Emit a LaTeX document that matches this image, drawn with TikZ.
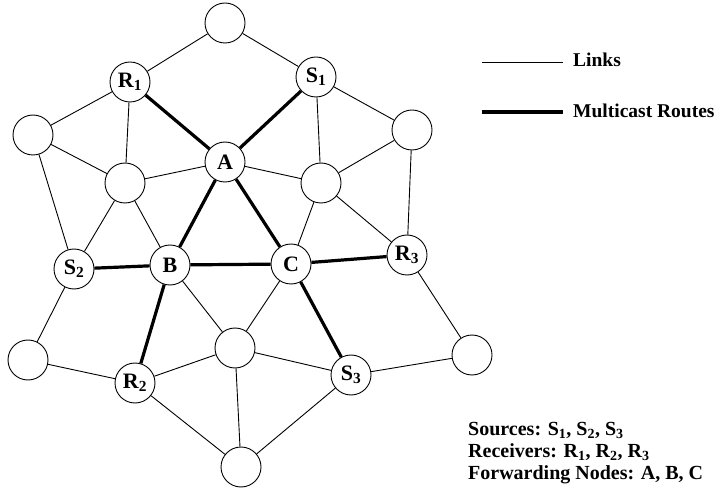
\documentclass[tikz,border=0pt]{standalone}
\usepackage{fontspec}
\setmainfont{Liberation Serif}
\begin{document}
\begin{tikzpicture}[x=1pt,y=-1pt,
  nd/.style={circle,draw,line width=0.9pt,minimum size=40pt,inner sep=0pt,fill=white,font=\fontsize{22}{22}\selectfont\bfseries},
  link/.style={line width=0.9pt},
  route/.style={line width=3.2pt},
  legtext/.style={anchor=base west,inner sep=0pt,font=\fontsize{19.5}{19.5}\selectfont\bfseries},
  infotext/.style={anchor=base west,inner sep=0pt,font=\fontsize{20}{20}\selectfont\bfseries}]
\useasboundingbox (0,0) rectangle (720,494);
% network nodes
\node[nd] (top) at (225,23) {};
\node[nd] (R1) at (130,82) {R\textsubscript{1}};
\node[nd] (S1) at (316,77) {S\textsubscript{1}};
\node[nd] (L1) at (33,135) {};
\node[nd] (Rt1) at (412,130) {};
\node[nd] (A) at (225,162) {A};
\node[nd] (ML) at (125,183) {};
\node[nd] (MR) at (321,183) {};
\node[nd] (S2) at (74,269) {S\textsubscript{2}};
\node[nd] (B) at (170,265) {B};
\node[nd] (C) at (291,264) {C};
\node[nd] (R3) at (407,255) {R\textsubscript{3}};
\node[nd] (BL) at (28,360) {};
\node[nd] (MB) at (235,348) {};
\node[nd] (R2) at (135,383) {R\textsubscript{2}};
\node[nd] (S3) at (351,375) {S\textsubscript{3}};
\node[nd] (BR) at (472,355) {};
\node[nd] (Bot) at (241,467) {};
% ordinary links
\draw[link] (top) -- (R1);
\draw[link] (top) -- (S1);
\draw[link] (R1) -- (L1);
\draw[link] (R1) -- (ML);
\draw[link] (S1) -- (MR);
\draw[link] (S1) -- (Rt1);
\draw[link] (L1) -- (ML);
\draw[link] (L1) -- (S2);
\draw[link] (ML) -- (A);
\draw[link] (ML) -- (S2);
\draw[link] (ML) -- (B);
\draw[link] (A) -- (MR);
\draw[link] (MR) -- (Rt1);
\draw[link] (MR) -- (C);
\draw[link] (MR) -- (R3);
\draw[link] (Rt1) -- (R3);
\draw[link] (S2) -- (BL);
\draw[link] (B) -- (MB);
\draw[link] (C) -- (MB);
\draw[link] (R3) -- (BR);
\draw[link] (BL) -- (R2);
\draw[link] (R2) -- (MB);
\draw[link] (R2) -- (Bot);
\draw[link] (MB) -- (S3);
\draw[link] (MB) -- (Bot);
\draw[link] (S3) -- (BR);
\draw[link] (S3) -- (Bot);
% multicast routes
\draw[route] (R1) -- (A);
\draw[route] (S1) -- (A);
\draw[route] (A) -- (B);
\draw[route] (A) -- (C);
\draw[route] (S2) -- (B);
\draw[route] (B) -- (C);
\draw[route] (C) -- (R3);
\draw[route] (B) -- (R2);
\draw[route] (C) -- (S3);
% legend
\coordinate (l1a) at (482,62);
\coordinate (l1b) at (563,62);
\coordinate (l2a) at (482,112);
\coordinate (l2b) at (563,112);
\draw[link] (l1a) -- (l1b);
\draw[route] (l2a) -- (l2b);
\node[legtext] (lk) at (573,67) {Links};
\node[legtext] (mc) at (573,118) {Multicast Routes};
% summary of the roles
\node[infotext] (src) at (468,435) {Sources: S\textsubscript{1}, S\textsubscript{2}, S\textsubscript{3}};
\node[infotext] (rcv) at (468,457) {Receivers: R\textsubscript{1}, R\textsubscript{2}, R\textsubscript{3}};
\node[infotext] (fwd) at (468,479.5) {Forwarding Nodes: A, B, C};
\end{tikzpicture}
\end{document}
